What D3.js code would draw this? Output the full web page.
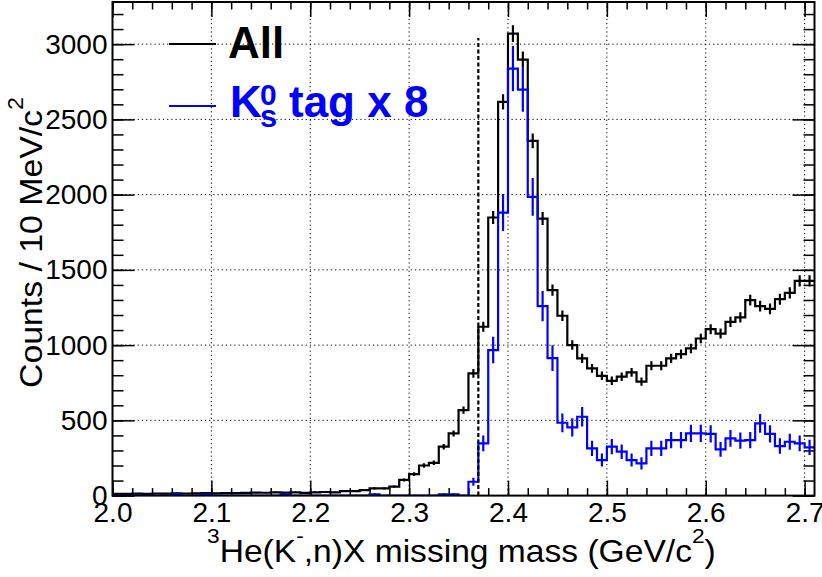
<!DOCTYPE html>
<html><head><meta charset="utf-8">
<script src="https://cdn.jsdelivr.net/npm/d3@7"></script>
<style>
body{margin:0;background:#fff}
svg{display:block}
text{font-family:"Liberation Sans",Arial,Helvetica,sans-serif}
</style>
</head><body><svg id="c" width="822" height="577"></svg>
<script>
// bin lower edges (GeV/c^2), 10 MeV bins
const binLow = [2.00,2.01,2.02,2.03,2.04,2.05,2.06,2.07,2.08,2.09,
  2.10,2.11,2.12,2.13,2.14,2.15,2.16,2.17,2.18,2.19,
  2.20,2.21,2.22,2.23,2.24,2.25,2.26,2.27,2.28,2.29,
  2.30,2.31,2.32,2.33,2.34,2.35,2.36,2.37,2.38,2.39,
  2.40,2.41,2.42,2.43,2.44,2.45,2.46,2.47,2.48,2.49,
  2.50,2.51,2.52,2.53,2.54,2.55,2.56,2.57,2.58,2.59,
  2.60,2.61,2.62,2.63,2.64,2.65,2.66,2.67,2.68,2.69,2.70];
const binWidth = 0.01;
// "All" counts
const allCounts = [12,12,13,12,14,13,15,14,15,16,
  15,17,16,18,20,19,22,20,22,18,
  22,24,22,30,30,37,48,48,60,104,
  143,200,218,325,413,568,812,1122,1848,2616,
  3070,2897,2357,1841,1365,1195,1000,912,845,796,
  763,790,819,757,863,863,912,940,978,1044,
  1106,1077,1155,1184,1299,1259,1241,1305,1347,1427,1427];
// K0s tag counts x 8
const k0sCounts = [0,0,0,0,0,0,8,0,0,8,
  0,0,0,0,0,0,0,8,0,0,
  0,0,0,0,0,0,8,0,0,0,
  0,0,0,8,8,0,92,347,967,1881,
  2837,2698,1985,1259,914,484,453,524,314,236,
  325,292,236,214,314,314,369,369,413,413,
  410,307,380,365,369,480,410,329,358,347,321];
const k0sScale = 8;
const xDomain = [2.0, 2.71];
const yDomain = [0, 3280];
const xTicks = [2.0,2.1,2.2,2.3,2.4,2.5,2.6,2.7];
const xTickLabels = ["2.0","2.1","2.2","2.3","2.4","2.5","2.6","2.7"];
const yTicks = [0,500,1000,1500,2000,2500,3000];
const yTickLabels = ["0","500","1000","1500","2000","2500","3000"];
const thresholdX = 2.37, thresholdTop = 3040;

const L=112.5, R=814.5, T=2, B=495.6;
const svg = d3.select("#c");
const x = d3.scaleLinear().domain(xDomain).range([L,R]);
const y = d3.scaleLinear().domain(yDomain).range([B,T]);

// grid
const grid = svg.append("g").attr("stroke","#000").attr("stroke-width",1).attr("stroke-dasharray","1.2,3");
grid.selectAll(".gx").data(xTicks.filter(v=>v>xDomain[0])).enter().append("line")
  .attr("x1",d=>x(d)).attr("x2",d=>x(d)).attr("y1",T).attr("y2",B);
grid.selectAll(".gy").data(yTicks.filter(v=>v>0)).enter().append("line")
  .attr("x1",L).attr("x2",R).attr("y1",d=>y(d)).attr("y2",d=>y(d));

// axes
const fmtX = (d)=>xTickLabels[xTicks.findIndex(t=>Math.abs(t-d)<1e-9)];
const fmtY = (d)=>yTickLabels[yTicks.indexOf(d)];
const xMinor = []; for (let i=0;i<=35;i++){ const v=2.0+i*0.02; if(v<=2.7101) xMinor.push(+v.toFixed(2)); }
const yMinor = []; for (let v=0; v<=3200; v+=100) yMinor.push(v);

function styleAxis(g){ g.select(".domain").remove(); g.selectAll("line").attr("stroke","#000").attr("stroke-width",1.5); g.selectAll("text").attr("font-size",28).attr("fill","#000"); }

svg.append("g").attr("transform",`translate(0,${B})`).call(d3.axisBottom(x).tickValues(xTicks).tickFormat(fmtX).tickSizeInner(-15).tickSizeOuter(0).tickPadding(7)).call(styleAxis);
svg.append("g").attr("transform",`translate(0,${B})`).call(d3.axisBottom(x).tickValues(xMinor).tickFormat("").tickSizeInner(-7.5).tickSizeOuter(0)).call(styleAxis);
svg.append("g").attr("transform",`translate(0,${T})`).call(d3.axisTop(x).tickValues(xTicks).tickFormat("").tickSizeInner(-15).tickSizeOuter(0)).call(styleAxis);
svg.append("g").attr("transform",`translate(0,${T})`).call(d3.axisTop(x).tickValues(xMinor).tickFormat("").tickSizeInner(-7.5).tickSizeOuter(0)).call(styleAxis);
svg.append("g").attr("transform",`translate(${L},0)`).call(d3.axisLeft(y).tickValues(yTicks).tickFormat(fmtY).tickSizeInner(-22).tickSizeOuter(0).tickPadding(5)).call(styleAxis);
svg.append("g").attr("transform",`translate(${L},0)`).call(d3.axisLeft(y).tickValues(yMinor).tickFormat("").tickSizeInner(-11).tickSizeOuter(0)).call(styleAxis);
svg.append("g").attr("transform",`translate(${R},0)`).call(d3.axisRight(y).tickValues(yTicks).tickFormat("").tickSizeInner(-22).tickSizeOuter(0)).call(styleAxis);
svg.append("g").attr("transform",`translate(${R},0)`).call(d3.axisRight(y).tickValues(yMinor).tickFormat("").tickSizeInner(-11).tickSizeOuter(0)).call(styleAxis);

// clip
svg.append("defs").append("clipPath").attr("id","clip").append("rect").attr("x",L).attr("y",T).attr("width",R-L).attr("height",B-T);
const plot = svg.append("g").attr("clip-path","url(#clip)");

function drawHist(counts, color, errFn){
  const pts = counts.map((v,i)=>[binLow[i], v]);
  pts.push([binLow[binLow.length-1]+binWidth, counts[counts.length-1]]);
  const line = d3.line().x(d=>x(d[0])).y(d=>y(d[1])).curve(d3.curveStepAfter);
  plot.append("path").attr("d", line(pts)).attr("fill","none").attr("stroke",color).attr("stroke-width",2.2);
  plot.append("g").selectAll("line").data(counts.map((v,i)=>({c:binLow[i]+binWidth/2, v, e:errFn(v)})).filter(d=>d.v>0))
    .enter().append("line")
    .attr("x1",d=>x(d.c)).attr("x2",d=>x(d.c))
    .attr("y1",d=>y(d.v-d.e)).attr("y2",d=>y(d.v+d.e))
    .attr("stroke",color).attr("stroke-width",2.2);
}
drawHist(allCounts, "#000", v=>Math.sqrt(v));
drawHist(k0sCounts, "#0000ff", v=>Math.sqrt(v*k0sScale));

// threshold line
plot.append("line").attr("x1",x(thresholdX)).attr("x2",x(thresholdX)).attr("y1",y(0)).attr("y2",y(thresholdTop))
  .attr("stroke","#000").attr("stroke-width",2.2).attr("stroke-dasharray","4,2.5");

// frame
svg.append("rect").attr("x",L).attr("y",T).attr("width",R-L).attr("height",B-T).attr("fill","none").attr("stroke","#000").attr("stroke-width",2);

// legend
svg.append("line").attr("x1",169).attr("x2",216).attr("y1",44).attr("y2",44).attr("stroke","#000").attr("stroke-width",2.2);
svg.append("text").attr("x",228).attr("y",58).attr("font-size",44).attr("font-weight","bold").attr("fill","#000").text("All");
svg.append("line").attr("x1",169).attr("x2",216).attr("y1",106).attr("y2",106).attr("stroke","#0000ff").attr("stroke-width",2.2);
svg.append("text").attr("x",230).attr("y",117).attr("font-size",44).attr("font-weight","bold").attr("fill","#0000ff").text("K");
svg.append("text").attr("x",260).attr("y",105).attr("font-size",30).attr("font-weight","bold").attr("fill","#0000ff").text("0");
svg.append("text").attr("x",260).attr("y",127).attr("font-size",31).attr("font-weight","bold").attr("fill","#0000ff").text("s");
svg.append("text").attr("x",289).attr("y",117).attr("font-size",44).attr("font-weight","bold").attr("fill","#0000ff").text("tag x 8");

// x title
const xtG = svg.append("g");
const xt = xtG.append("text").attr("x",207).attr("y",562).attr("font-size",31).attr("fill","#000");
xt.append("tspan").attr("font-size",21).attr("dy",-19).text("3");
xt.append("tspan").attr("dy",19).text("He(K");
xt.append("tspan").attr("font-size",21).attr("dy",-19).text("-");
xt.append("tspan").attr("dy",19).text(",n)X missing mass (GeV/c");
xt.append("tspan").attr("font-size",21).attr("dy",-19).text("2");
xt.append("tspan").attr("dy",19).text(")");
{
  const w = xt.node().getBBox().width;
  const k = 509 / w;
  xtG.attr("transform",`translate(207,0) scale(${k},1) translate(-207,0)`);
}

// y title
const ytG = svg.append("g").attr("transform","translate(42,388) rotate(-90)");
const yt = ytG.append("text").attr("x",0).attr("y",0).attr("font-size",32).attr("fill","#000");
yt.append("tspan").text("Counts / 10 MeV/c");
yt.append("tspan").attr("font-size",22).attr("dy",-19).text("2");
{
  const w = yt.node().getBBox().width;
  const k = 291 / w;
  yt.attr("transform",`scale(${k},1)`);
}
</script></body></html>
